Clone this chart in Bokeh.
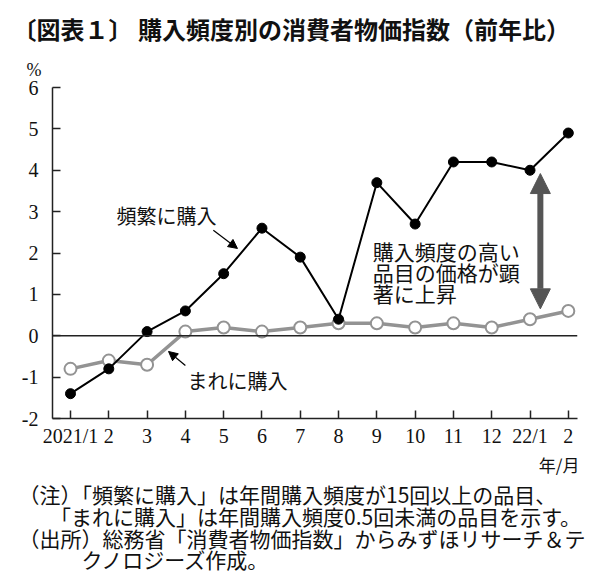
from bokeh.plotting import figure
from bokeh.models import (ColumnDataSource, FixedTicker, Span, Label, Arrow,
                          NormalHead, Range1d, Title)
from bokeh.embed import file_html
from bokeh.resources import INLINE

# ---- data ----
months = ["2021/1", "2", "3", "4", "5", "6", "7", "8", "9", "10", "11", "12", "22/1", "2"]
frequent = [-1.4, -0.8, 0.1, 0.6, 1.5, 2.6, 1.9, 0.4, 3.7, 2.7, 4.2, 4.2, 4.0, 4.9]
rare = [-0.8, -0.6, -0.7, 0.1, 0.2, 0.1, 0.2, 0.3, 0.3, 0.2, 0.3, 0.2, 0.4, 0.6]
y_ticks = [-2, -1, 0, 1, 2, 3, 4, 5, 6]

title_text = "〔図表１〕 購入頻度別の消費者物価指数（前年比）"
label_freq = "頻繁に購入"
label_rare = "まれに購入"
note_lines = ["購入頻度の高い", "品目の価格が顕", "著に上昇"]
foot_lines = [
    "（注）「頻繁に購入」は年間購入頻度が15回以上の品目、",
    "　　「まれに購入」は年間購入頻度0.5回未満の品目を示す。",
    "（出所）総務省「消費者物価指数」からみずほリサーチ＆テ",
    "　　　クノロジーズ作成。",
]

xs = list(range(len(months)))
src = ColumnDataSource(dict(x=xs, f=frequent, r=rare))

SERIF = "Liberation Serif"
JP = "Noto Sans CJK JP"

p = figure(frame_width=525, frame_height=331, width=592, height=579,
           min_border_left=52, min_border_top=87, min_border_right=15,
           min_border_bottom=161, title=None,
           x_range=Range1d(-0.47, 13.24), y_range=Range1d(-2, 6),
           output_backend="svg", toolbar_location=None)
p.outline_line_color = None
p.grid.grid_line_color = None
p.background_fill_color = "white"

for ax in (p.xaxis[0], p.yaxis[0]):
    ax.axis_line_color = "#222222"
    ax.axis_line_width = 1.5
    ax.major_tick_line_color = "#222222"
    ax.major_tick_line_width = 1.5
    ax.major_tick_in = 8
    ax.major_tick_out = 0
    ax.minor_tick_line_color = None
    ax.major_label_text_font = SERIF
    ax.major_label_text_font_size = "20px"
    ax.major_label_text_color = "#111111"

p.yaxis.ticker = FixedTicker(ticks=y_ticks)
p.yaxis.major_label_overrides = {t: str(t) for t in y_ticks}
p.yaxis.major_label_standoff = 14
p.xaxis.ticker = FixedTicker(ticks=xs)
p.xaxis.major_label_overrides = {i: m for i, m in enumerate(months)}
p.xaxis.major_label_standoff = 6

p.add_layout(Span(location=0, dimension="width", line_color="#222222", line_width=1.3))

# rare series
p.line("x", "r", source=src, line_color="#939393", line_width=3.5)
p.scatter("x", "r", source=src, size=12, fill_color="white",
          line_color="#939393", line_width=2)
# frequent series
p.line("x", "f", source=src, line_color="black", line_width=2)
p.scatter("x", "f", source=src, size=10, fill_color="black", line_color="black")

# big double arrow
p.add_layout(Arrow(x_start=12.27, y_start=0.65, x_end=12.27, y_end=3.92,
                   line_color="#555555", line_width=6,
                   start=NormalHead(size=20, fill_color="#555555", line_color="#555555"),
                   end=NormalHead(size=20, fill_color="#555555", line_color="#555555")))

# pointer arrows
p.add_layout(Arrow(x_start=3.73, y_start=2.55, x_end=4.36, y_end=2.11,
                   line_color="black", line_width=1.2,
                   end=NormalHead(size=9, fill_color="black", line_color="black")))
p.add_layout(Arrow(x_start=3.0, y_start=-0.72, x_end=2.56, y_end=-0.38,
                   line_color="black", line_width=1.2,
                   end=NormalHead(size=9, fill_color="black", line_color="black")))

def lab(x, y, t, font=JP, size="20px", align="left", base="middle"):
    p.add_layout(Label(x=x, y=y, text=t, text_font=font, text_font_size=size,
                       text_align=align, text_baseline=base, text_color="#111111"))

lab(2.51, 2.91, label_freq, align="center")
lab(4.36, -1.08, label_rare, align="center")
for i, t in enumerate(note_lines):
    lab(7.89, 2.06 - i * 0.51, t, size="21px")

# titles above (first added = closest to the frame)
p.add_layout(Title(text="%", align="left", offset=-26, standoff=15,
                   text_font=SERIF, text_font_size="18px", text_font_style="normal",
                   text_color="#111111"), "above")
p.add_layout(Title(text=title_text, align="left", offset=-40, standoff=9,
                   text_font=JP, text_font_size="24px", text_font_style="bold",
                   text_color="#111111"), "above")

# below: unit label then footnotes
p.add_layout(Title(text="年/月", align="right", offset=-2, standoff=0,
                   text_font=JP, text_font_size="17px", text_font_style="normal",
                   text_color="#111111"), "below")
p.add_layout(Title(text="\n".join(foot_lines), align="left", offset=-34, standoff=0,
                   text_font=JP, text_font_size="21px", text_font_style="normal",
                   text_line_height=0.73, text_color="#111111"), "below")

open("out.html", "w").write(file_html(p, INLINE))
